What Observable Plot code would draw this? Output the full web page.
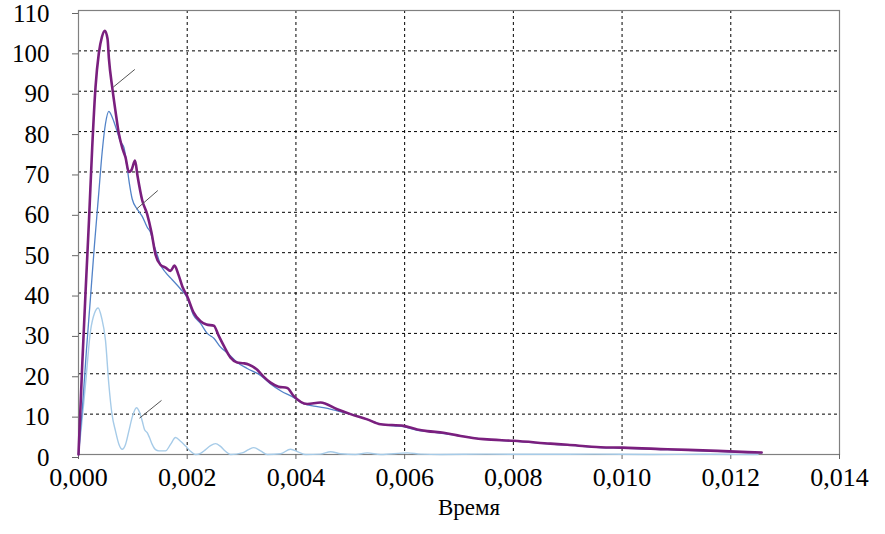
<!DOCTYPE html>
<html>
<head>
<meta charset="utf-8">
<script src="https://cdn.jsdelivr.net/npm/d3@7"></script>
<script src="https://cdn.jsdelivr.net/npm/@observablehq/plot@0.6"></script>
<style>
  html, body { margin: 0; padding: 0; background: #fff; }
  #chart svg { display: block; }
  #chart svg, #chart svg text { font-family: 'Liberation Serif', 'Times New Roman', serif !important; }
</style>
</head>
<body>
<div id="chart"></div>
<script>
// Time (s) and value samples for the three curves
const totalTime = [0, 0.000068, 0.000129, 0.000193, 0.000252, 0.000313, 0.000374, 0.000432, 0.000484, 0.000534, 0.000560, 0.000620, 0.000681, 0.000742, 0.000804, 0.000865, 0.000926, 0.000975, 0.001040, 0.001086, 0.001172, 0.001264, 0.001343, 0.001417, 0.001509, 0.001601, 0.001693, 0.001766, 0.001840, 0.001914, 0.002000, 0.002116, 0.002245, 0.002355, 0.002490, 0.002576, 0.002674, 0.002797, 0.002920, 0.003036, 0.003128, 0.003288, 0.003404, 0.003533, 0.003680, 0.003840, 0.003956, 0.004208, 0.004453, 0.004760, 0.005005, 0.005312, 0.005557, 0.005980, 0.006232, 0.006416, 0.006716, 0.007029, 0.007452, 0.008004, 0.008685, 0.008998, 0.009605, 0.010010, 0.010838, 0.011758, 0.012310, 0.012568];
const totalValue = [0, 22, 40, 58, 76, 91, 99.4, 103.5, 105, 103, 98, 91, 85, 79.5, 76, 73.6, 70, 70.5, 72.8, 69, 63, 59.5, 55, 49.5, 47, 46.3, 45.5, 46.8, 44.5, 41.5, 39.2, 35.2, 33, 32.2, 31.9, 29.5, 26.9, 24, 22.8, 22.6, 22.3, 21, 19.3, 17.8, 16.8, 16.5, 14.5, 12.5, 12.9, 11.2, 10, 8.7, 7.5, 7.1, 6.2, 5.8, 5.4, 4.6, 3.8, 3.4, 2.7, 2.4, 1.8, 1.7, 1.3, 0.9, 0.6, 0.5];

const mainTime = [0, 0.000074, 0.000147, 0.000221, 0.000294, 0.000368, 0.000436, 0.000497, 0.000558, 0.000607, 0.000650, 0.000712, 0.000773, 0.000837, 0.000896, 0.000938, 0.000988, 0.001080, 0.001172, 0.001264, 0.001325, 0.001386, 0.001448, 0.001509, 0.001601, 0.001724, 0.001877, 0.002000, 0.002116, 0.002245, 0.002368, 0.002490, 0.002613, 0.002736, 0.002920, 0.003104, 0.003349, 0.003533, 0.003717, 0.003962, 0.004140, 0.004330, 0.004508, 0.004760, 0.005005, 0.005312, 0.005557, 0.005802, 0.005980, 0.006232, 0.006477, 0.006716, 0.007029, 0.007452, 0.008004, 0.008685, 0.008998, 0.009605, 0.010010, 0.010838, 0.011758, 0.012310, 0.012568];
const mainValue = [0, 12, 26, 39, 52, 64, 75, 82, 85, 84, 82.5, 80, 77.5, 76, 71, 67, 63.3, 60.8, 59, 56.3, 55, 52, 49.5, 47, 45.1, 43.3, 41, 38.8, 34.5, 32.5, 30, 28.8, 26.6, 25.2, 22.8, 21.3, 19.6, 17.5, 15.8, 14.1, 12.6, 12, 11.6, 10.8, 10, 8.7, 7.5, 7.1, 6.9, 6, 5.6, 5.2, 4.6, 3.8, 3.3, 2.6, 2.3, 1.7, 1.6, 1.2, 0.8, 0.5, 0.4];

const residualTime = [0, 0.000055, 0.000129, 0.000221, 0.000294, 0.000362, 0.000423, 0.000497, 0.000558, 0.000616, 0.000681, 0.000745, 0.000804, 0.000865, 0.000926, 0.000994, 0.001067, 0.001122, 0.001172, 0.001214, 0.001264, 0.001306, 0.001356, 0.001417, 0.001478, 0.001601, 0.001693, 0.001785, 0.001877, 0.001969, 0.002061, 0.002153, 0.002245, 0.002337, 0.002429, 0.002521, 0.002613, 0.002705, 0.002797, 0.003012, 0.003128, 0.003226, 0.003349, 0.003472, 0.003717, 0.003901, 0.004048, 0.004177, 0.004453, 0.004637, 0.004821, 0.005097, 0.005312, 0.005557, 0.006048, 0.006293, 0.006661, 0.0075, 0.0085, 0.0095, 0.0105, 0.0115, 0.0125];
const residualValue = [0, 7, 17.4, 30.6, 35, 36.3, 34, 28.2, 17.4, 10, 5.8, 2.5, 1.3, 2.5, 5.8, 9.5, 11.6, 10.5, 8.3, 6.2, 5.4, 4.2, 2.5, 1.2, 0.9, 0.9, 2.5, 4.2, 3.3, 2.1, 0.8, 0, 0.3, 1.2, 2.2, 2.7, 2, 0.8, 0, 0.4, 1.2, 1.7, 0.9, 0, 0.2, 1.3, 0.6, 0, 0.1, 0.7, 0.2, 0, 0.4, 0, 0.4, 0.1, 0, 0.1, 0.05, 0.1, 0, 0.05, 0];

// Short leader lines next to each curve: [time1, value1, time2, value2]
const leaders = [
  [0.000638, 91.0, 0.001036, 95.4],
  [0.001067, 60.8, 0.001459, 65.4],
  [0.001122, 9.0, 0.001527, 13.4]
];

// Axis ticks and labels
const xTicks = [0, 0.002, 0.004, 0.006, 0.008, 0.010, 0.012, 0.014];
const xGridTicks = [0.002, 0.004, 0.006, 0.008, 0.010, 0.012];
const yTicks = [0, 10, 20, 30, 40, 50, 60, 70, 80, 90, 100, 110];
const yGridTicks = [10, 20, 30, 40, 50, 60, 70, 80, 90, 100];
const xTitle = "Время";

const toRows = (ts, vs) => ts.map((t, i) => ({t, v: vs[i]}));
const total = toRows(totalTime, totalValue);
const main = toRows(mainTime, mainValue);
const residual = toRows(residualTime, residualValue);
const leaderRows = leaders.map(([t1, v1, t2, v2]) => ({t1, v1, t2, v2}));

const serif = "'Liberation Serif', 'Times New Roman', serif";
const commaFormat = d => d3.format(".3f")(d).replace(".", ",");

const chart = Plot.plot({
  width: 885,
  height: 534,
  marginLeft: 78,
  marginRight: 46,
  marginTop: 10,
  marginBottom: 80,
  style: {fontFamily: serif, color: "#000", background: "#fff"},
  x: {domain: [0, 0.014]},
  y: {domain: [0, 110]},
  marks: [
    Plot.gridX(xGridTicks, {stroke: "#000", strokeOpacity: 1, strokeDasharray: "3,3", strokeWidth: 1}),
    Plot.gridY(yGridTicks, {stroke: "#000", strokeOpacity: 1, strokeDasharray: "3,3", strokeWidth: 1}),
    Plot.frame({stroke: "#808080", strokeWidth: 1.2}),
    Plot.axisY(yTicks, {
      tickSize: 6, tickPadding: 23, fontSize: 25, stroke: "#666",
      fill: "#000", dy: 3, label: null, fontFamily: serif
    }),
    Plot.axisX(xTicks, {
      tickSize: 5, tickPadding: 8, fontSize: 26, stroke: "#666",
      fill: "#000", tickFormat: commaFormat, label: null, fontFamily: serif
    }),
    Plot.text([xTitle], {
      frameAnchor: "bottom", lineAnchor: "bottom", dy: 60, dx: 10,
      fontSize: 23, fill: "#000", fontFamily: serif
    }),
    Plot.line(residual, {x: "t", y: "v", stroke: "#a6cbe8", strokeWidth: 1.4, curve: "monotone-x"}),
    Plot.line(main, {x: "t", y: "v", stroke: "#5283c8", strokeWidth: 1.3, curve: "monotone-x"}),
    Plot.line(total, {x: "t", y: "v", stroke: "#7a1f7e", strokeWidth: 2.6, curve: "monotone-x"}),
    Plot.link(leaderRows, {x1: "t1", y1: "v1", x2: "t2", y2: "v2", stroke: "#555", strokeWidth: 1})
  ]
});

document.getElementById("chart").appendChild(chart);
</script>
</body>
</html>
